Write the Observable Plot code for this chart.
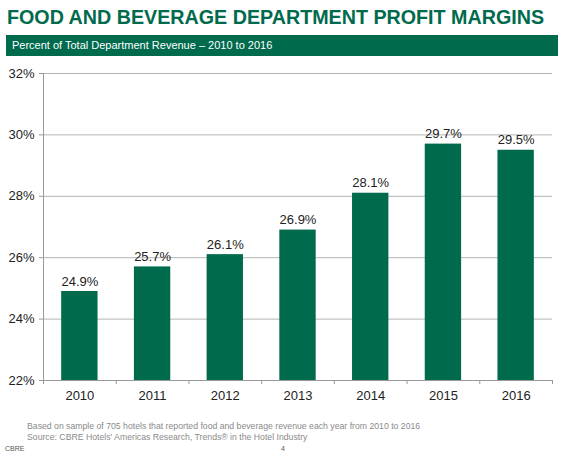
<!DOCTYPE html>
<html>
<head>
<meta charset="utf-8">
<script src="https://cdn.jsdelivr.net/npm/d3@7"></script>
<script src="https://cdn.jsdelivr.net/npm/@observablehq/plot@0.6"></script>
<style>
  body { margin: 0; background: #fff; font-family: "Liberation Sans", Arial, sans-serif; }
  #page { position: relative; width: 569px; height: 458px; overflow: hidden; }
  #title { position: absolute; left: 7px; top: 6px; font-weight: bold; font-size: 19.7px; color: #006A4D; white-space: nowrap; }
  #bar { position: absolute; left: 6px; top: 35px; width: 552px; height: 21px; background: #006A4D; color: #fff; font-size: 11px; line-height: 21px; padding-left: 6px; box-sizing: border-box; white-space: nowrap; }
  #chart { position: absolute; left: 0; top: 60px; }
  .foot { position: absolute; color: #8a8a8a; font-size: 8.7px; white-space: nowrap; }
</style>
</head>
<body>
<div id="page">
  <div id="title">FOOD AND BEVERAGE DEPARTMENT PROFIT MARGINS</div>
  <div id="bar">Percent of Total Department Revenue – 2010 to 2016</div>
  <div id="chart"></div>
  <div class="foot" style="left:27px; top:421px;">Based on sample of 705 hotels that reported food and beverage revenue each year from 2010 to 2016</div>
  <div class="foot" style="left:27px; top:432px;">Source: CBRE Hotels' Americas Research, Trends® in the Hotel Industry</div>
  <div class="foot" style="left:5px; top:445px; font-size:7px; color:#555;">CBRE</div>
  <div class="foot" style="left:281px; top:445px; font-size:7px; color:#555;">4</div>
</div>
<script>
const years = [2010, 2011, 2012, 2013, 2014, 2015, 2016];
const margins = [24.9, 25.7, 26.1, 26.9, 28.1, 29.7, 29.5];
const yTicks = [22, 24, 26, 28, 30, 32];

const data = years.map((y, i) => ({year: y, value: margins[i]}));
const boundaries = years.map(y => y - 0.5).concat([years[years.length - 1] + 0.5]);
const green = "#006A4D";

const chart = Plot.plot({
  width: 569,
  height: 350,
  marginTop: 13,
  marginBottom: 30,
  marginLeft: 43,
  marginRight: 17,
  style: {fontFamily: "Liberation Sans, Arial, sans-serif", fontSize: "13px", color: "#222", background: "transparent"},
  x: {domain: [years[0] - 0.5, years[years.length - 1] + 0.5]},
  y: {domain: [22, 32]},
  marks: [
    Plot.gridY(yTicks.slice(1), {stroke: "#b4b4b4", strokeOpacity: 1}),
    Plot.rectY(data, {x1: d => d.year - 0.25, x2: d => d.year + 0.25, y1: 22, y2: "value", fill: green}),
    Plot.text(data, {x: "year", y: "value", text: d => d.value.toFixed(1) + "%", dy: -10, fontSize: 13, fill: "#222"}),
    Plot.ruleY([22], {stroke: "#999"}),
    Plot.ruleX([years[0] - 0.5], {stroke: "#999"}),
    Plot.axisY({ticks: yTicks, tickFormat: d => d + "%", tickSize: 4, tickPadding: 5, stroke: "#999", fontSize: 13, label: null}),
    Plot.axisX({ticks: boundaries, tickFormat: () => "", tickSize: 4, stroke: "#999", label: null}),
    Plot.axisX({ticks: years, tickFormat: d => String(d), tickSize: 0, tickPadding: 10, fontSize: 13, label: null})
  ]
});
document.getElementById("chart").appendChild(chart);
</script>
</body>
</html>
